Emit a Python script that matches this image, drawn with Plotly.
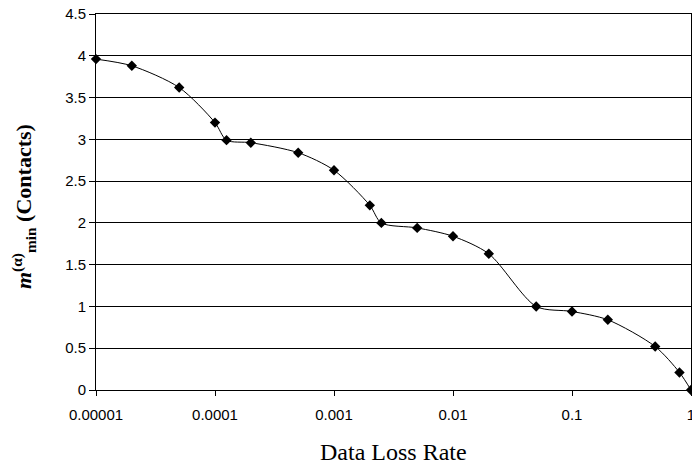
import plotly.graph_objects as go

loss_rate = [1e-5, 2e-5, 5e-5, 1e-4, 1.25e-4, 2e-4, 5e-4, 1e-3, 2e-3, 2.5e-3,
             5e-3, 1e-2, 2e-2, 5e-2, 0.1, 0.2, 0.5, 0.8, 1.0]
m_min = [3.96, 3.88, 3.62, 3.20, 2.99, 2.96, 2.84, 2.63, 2.21, 2.00,
         1.94, 1.84, 1.63, 1.00, 0.94, 0.84, 0.52, 0.21, 0.0]

x_tickvals = [1e-5, 1e-4, 1e-3, 1e-2, 1e-1, 1]
x_ticktext = ["0.00001", "0.0001", "0.001", "0.01", "0.1", "1"]
y_tickvals = [0, 0.5, 1, 1.5, 2, 2.5, 3, 3.5, 4, 4.5]
y_ticktext = ["0", "0.5", "1", "1.5", "2", "2.5", "3", "3.5", "4", "4.5"]

x_title = "Data Loss Rate"
y_title = "<b><i>m</i><sup>(α)</sup><sub>min</sub> (Contacts)</b>"

fig = go.Figure()
fig.add_trace(go.Scatter(
    x=loss_rate, y=m_min, mode="lines+markers",
    line=dict(color="black", width=1, shape="spline", smoothing=0.8),
    marker=dict(symbol="diamond", size=8, color="black"),
    showlegend=False, cliponaxis=False,
))

fig.update_layout(
    width=692, height=464,
    margin=dict(l=96, r=1, t=14, b=74),
    paper_bgcolor="white", plot_bgcolor="white",
    font=dict(family="Liberation Sans, Arial", size=15, color="black"),
)
fig.update_xaxes(
    type="log", range=[-5, 0], automargin=False,
    tickvals=x_tickvals, ticktext=x_ticktext, ticklabeloverflow="allow",
    ticklabelstandoff=6,
    showgrid=False, zeroline=False,
    showline=True, linecolor="black", linewidth=1, mirror=True,
    ticks="outside", ticklen=5, tickcolor="black",
)
fig.update_yaxes(
    range=[0, 4.5], automargin=False,
    tickvals=y_tickvals, ticktext=y_ticktext,
    showgrid=True, gridcolor="black", gridwidth=1, zeroline=False,
    showline=True, linecolor="black", linewidth=1, mirror=True,
    ticks="outside", ticklen=6, tickcolor="black",
)
fig.add_annotation(
    text=x_title, xref="paper", yref="paper", x=0.5, y=0,
    xanchor="center", yanchor="middle", yshift=-62, showarrow=False,
    font=dict(family="Liberation Serif, Times New Roman", size=24, color="black"),
)
fig.add_annotation(
    text=y_title, xref="paper", yref="paper", x=0, y=0.5,
    xanchor="center", yanchor="middle", xshift=-73, yshift=-5,
    textangle=-90, showarrow=False,
    font=dict(family="Liberation Serif, Times New Roman", size=22, color="black"),
)

fig.write_html(
    "out.html",
    config={"displayModeBar": False},
    post_script="document.body.style.margin='0';document.body.style.overflow='hidden';",
)
